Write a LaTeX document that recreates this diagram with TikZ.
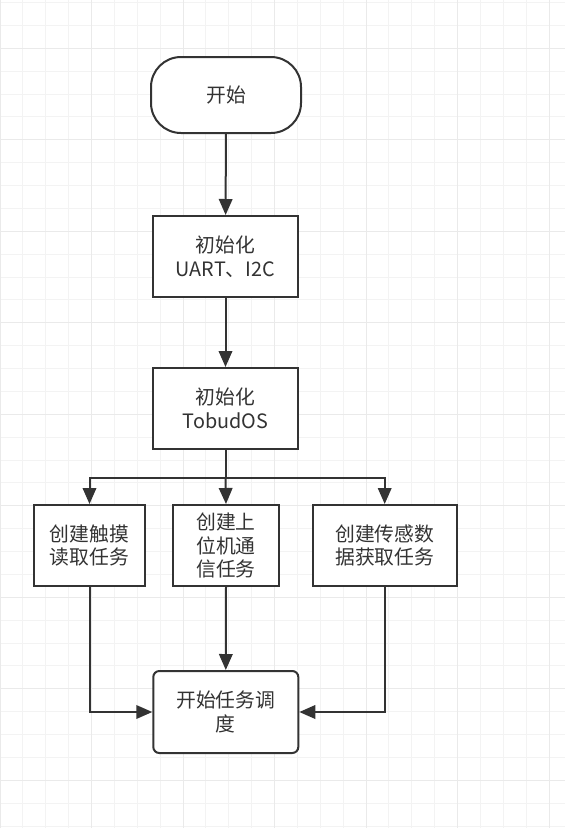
\documentclass[tikz,border=0pt]{standalone}
\usepackage{fontspec}
\setmainfont{Noto Sans CJK SC}
\usetikzlibrary{arrows.meta}
\definecolor{gridminor}{HTML}{F3F3F3}
\definecolor{gridmajor}{HTML}{EAEAEA}
\definecolor{ink}{HTML}{333333}
\begin{document}
\begin{tikzpicture}[x=1pt,y=-1pt,
  box/.style={draw=ink, line width=2pt, fill=white, text=ink, align=center,
    minimum width=145pt, minimum height=81pt, inner sep=0pt,
    font=\fontsize{19.8pt}{23.5pt}\selectfont},
  conn/.style={draw=ink, line width=2pt, -{Triangle[length=16pt,width=13.5pt]}},
  line/.style={draw=ink, line width=2pt}
]
\useasboundingbox (0,0) rectangle (565,828);
\fill[white] (0,0) rectangle (565,828);
% grid
\foreach \k in {0,...,24} {
  \pgfmathsetmacro{\xx}{22.875*\k}
  \draw[gridminor, line width=1pt] (\xx,0) -- (\xx,828);
}
\foreach \k in {0,...,36} {
  \pgfmathsetmacro{\yy}{2.55+22.875*\k}
  \draw[gridminor, line width=1pt] (0,\yy) -- (565,\yy);
}
\foreach \k in {0,4,...,24} {
  \pgfmathsetmacro{\xx}{22.875*\k}
  \draw[gridmajor, line width=1pt] (\xx,0) -- (\xx,828);
}
\foreach \k in {2,6,...,34} {
  \pgfmathsetmacro{\yy}{2.55+22.875*\k}
  \draw[gridmajor, line width=1pt] (0,\yy) -- (565,\yy);
}
% nodes
\node[box, minimum width=150pt, minimum height=76pt, rounded corners=30pt] (start) at (226,95) {开始};
\node[box] (init1) at (225.5,256.5) {初始化\\UART、I2C};
\node[box] (init2) at (225.5,408.5) {初始化\\TobudOS};
\node[box, minimum width=111pt] (ta) at (89.5,545.5) {创建触摸\\读取任务};
\node[box, minimum width=106pt] (tb) at (226,545.5) {创建上\\位机通\\信任务};
\node[box, minimum width=144pt] (tc) at (384.7,545.5) {创建传感数\\据获取任务};
\node[box, rounded corners=6pt, minimum height=82pt] (sched) at (225.8,712) {开始任务调\\度};
\coordinate (split) at (init2.south |- 0,478.3);
% connectors
\draw[conn] (start) -- (init1);
\draw[conn] (init1) -- (init2);
\draw[line] (init2.south) -- (split);
\draw[conn] (split) -- (tb.north);
\draw[conn] (split) -| (ta.north);
\draw[conn] (split) -| (tc.north);
\draw[conn] (tb.south) -- (sched.north);
\draw[conn] (ta.south) |- (sched.west);
\draw[conn] (tc.south) |- (sched.east);
\end{tikzpicture}
\end{document}
